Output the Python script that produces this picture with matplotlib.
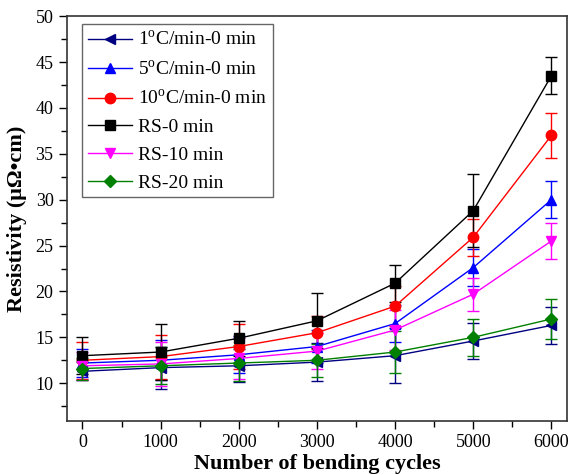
import matplotlib
matplotlib.use("Agg")
import matplotlib.pyplot as plt
from matplotlib.lines import Line2D

plt.rcParams['font.family'] = ['Liberation Serif', 'DejaVu Serif']
plt.rcParams['mathtext.fontset'] = 'custom'
plt.rcParams['mathtext.rm'] = 'Liberation Serif'

cycles = [0, 1000, 2000, 3000, 4000, 5000, 6000]

labels = ["1$^\\mathregular{o}$C/min-0 min", "5$^\\mathregular{o}$C/min-0 min",
          "10$^\\mathregular{o}$C/min-0 min", "RS-0 min", "RS-10 min", "RS-20 min"]
colors = ["#000080", "#0000ff", "#ff0000", "#000000", "#ff00ff", "#008000"]
markers = ["<", "^", "o", "s", "v", "D"]

r_1c = [11.3, 11.7, 11.9, 12.3, 13.0, 14.6, 16.3]
r_5c = [12.2, 12.5, 13.1, 14.0, 16.5, 22.6, 30.0]
r_10c = [12.5, 12.9, 14.0, 15.5, 18.4, 25.9, 37.0]
r_rs0 = [13.0, 13.4, 14.9, 16.8, 20.9, 28.8, 43.5]
r_rs10 = [11.9, 12.1, 12.7, 13.5, 15.8, 19.7, 25.5]
r_rs20 = [11.6, 11.9, 12.2, 12.5, 13.4, 15.0, 17.0]

e_1c = [1.0, 2.3, 1.8, 2.1, 3.0, 2.0, 2.0]
e_5c = [1.5, 2.2, 2.0, 1.8, 2.0, 2.0, 2.0]
e_10c = [2.0, 2.4, 2.5, 1.8, 2.2, 2.0, 2.5]
e_rs0 = [2.0, 3.0, 1.9, 3.0, 2.0, 4.0, 2.0]
e_rs10 = [1.5, 2.4, 2.2, 2.0, 2.2, 1.8, 2.0]
e_rs20 = [1.2, 2.0, 2.0, 1.8, 2.3, 2.0, 2.2]

series = [r_1c, r_5c, r_10c, r_rs0, r_rs10, r_rs20]
errors = [e_1c, e_5c, e_10c, e_rs0, e_rs10, e_rs20]

fig = plt.figure(figsize=(5.71, 4.75), dpi=100)
ax = fig.add_axes([0.117, 0.114, 0.876, 0.852])

msizes = [7.5, 7.5, 7.5, 6.5, 7.5, 6]
handles = []
for vals, errs, c, m, lab, ms in zip(series, errors, colors, markers, labels, msizes):
    ax.errorbar(cycles, vals, yerr=errs, color=c, marker=m, markersize=ms,
                linewidth=1.0, elinewidth=1.0, capsize=4, capthick=1.0)
    handles.append(Line2D([], [], color=c, marker=m, markersize=ms, linewidth=1.0, label=lab))

ax.set_xlim(-200, 6200)
ax.set_ylim(5.9, 50)
ax.set_xticks(cycles)
ax.set_yticks([10, 15, 20, 25, 30, 35, 40, 45, 50])
ax.set_xticks([500, 1500, 2500, 3500, 4500, 5500], minor=True)
ax.set_yticks([7.5, 12.5, 17.5, 22.5, 27.5, 32.5, 37.5, 42.5, 47.5], minor=True)
ax.tick_params(which='both', direction='out', top=False, right=False, labelsize=13)
ax.tick_params(which='major', length=6, width=1)
ax.tick_params(which='minor', length=4, width=1)
for sp in ax.spines.values():
    sp.set_linewidth(1.2)
    sp.set_color('#333333')

ax.set_xlabel("Number of bending cycles", fontsize=16, fontweight='bold', labelpad=2)
ax.set_ylabel("Resistivity (μΩ•cm)", fontsize=16, fontweight='bold', labelpad=6)

leg = ax.legend(handles=handles, loc='upper left', bbox_to_anchor=(0.03, 0.98), fontsize=14,
                frameon=True, fancybox=False, edgecolor='#666666', framealpha=1,
                handlelength=2.3, handletextpad=0.3, borderpad=0.3, labelspacing=0.52,
                borderaxespad=0.0)
leg.get_frame().set_linewidth(1.0)

fig.savefig("out.png", dpi=100)
